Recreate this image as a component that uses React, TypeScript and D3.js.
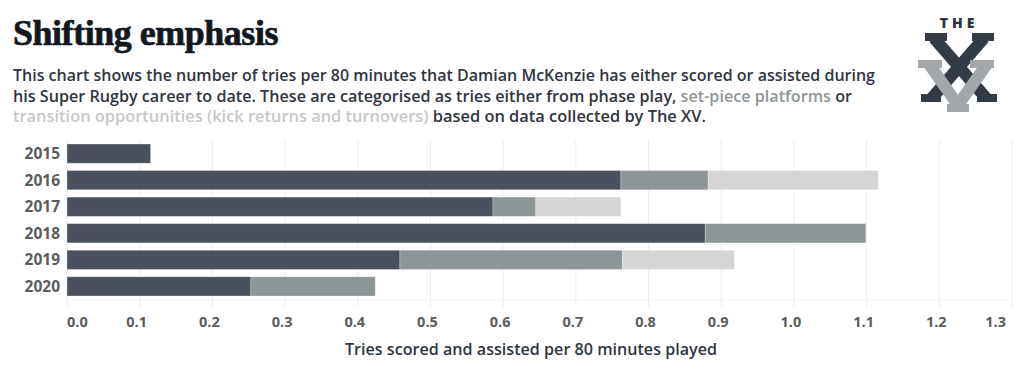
import React from "react";
import * as d3 from "d3";

// seasons and tries per 80 minutes, split by source
const years = ["2015", "2016", "2017", "2018", "2019", "2020"];
const phasePlay = [0.115, 0.762, 0.586, 0.878, 0.458, 0.253];
const setPiece = [0, 0.12, 0.059, 0.221, 0.306, 0.171];
const transition = [0, 0.234, 0.117, 0, 0.154, 0];
const tickValues = [0, 0.1, 0.2, 0.3, 0.4, 0.5, 0.6, 0.7, 0.8, 0.9, 1.0, 1.1, 1.2, 1.3];

const keys = ["phase", "setPiece", "transition"];
const colors = ["#4b515c", "#8e9596", "#d5d5d5"];

const width = 1024,
  height = 373;

const App: React.FC = () => {
  const rows = years.map((y, i) => ({
    year: y,
    phase: phasePlay[i],
    setPiece: setPiece[i],
    transition: transition[i],
  }));
  const stacked = d3.stack<any>().keys(keys)(rows);

  const x = d3.scaleLinear().domain([0, 1.3]).range([67, 1012]);
  const y = d3
    .scaleBand()
    .domain(years)
    .range([140, 300])
    .paddingInner(0.275)
    .paddingOuter(0.15);

  const sans = "'Open Sans', Roboto, sans-serif";
  const last = tickValues.length - 1;

  return (
    <svg
      width={width}
      height={height}
      style={{ position: "absolute", left: 0, top: 0, background: "#fff" }}
    >
      {/* header */}
      <text
        x={13}
        y={45}
        fontFamily="'Liberation Serif', serif"
        fontWeight={700}
        fontSize={35}
        letterSpacing={-0.4}
        fill="#111820"
        stroke="#111820"
        strokeWidth={0.7}
        textLength={265}
        lengthAdjust="spacingAndGlyphs"
      >
        Shifting emphasis
      </text>
      <g fontFamily={sans} fontWeight={600} fontSize={15.4} fill="#2f3540">
        <text x={13} y={81} textLength={862} lengthAdjust="spacingAndGlyphs">
          This chart shows the number of tries per 80 minutes that Damian McKenzie has either scored or assisted during
        </text>
        <text x={13} y={102} textLength={839} lengthAdjust="spacingAndGlyphs">
          his Super Rugby career to date. These are categorised as tries either from phase play,{" "}
          <tspan fill="#8e9596">set-piece platforms</tspan> or
        </text>
        <text x={13} y={122} textLength={693} lengthAdjust="spacingAndGlyphs">
          <tspan fill="#c8c8c8">transition opportunities (kick returns and turnovers)</tspan> based on data
          collected by The XV.
        </text>
      </g>

      {/* logo */}
      <g>
        <text
          x={959}
          y={28}
          textAnchor="middle"
          fontFamily={sans}
          fontWeight={800}
          fontSize={14}
          letterSpacing={4}
          fill="#2c333d"
        >
          THE
        </text>
        <g stroke="#333b46" strokeWidth={12}>
          <line x1={934} y1={38} x2={986} y2={98} />
          <line x1={984} y1={38} x2={932} y2={98} />
        </g>
        <g fill="#333b46">
          <rect x={925} y={33} width={22} height={8} />
          <rect x={972} y={33} width={22} height={8} />
          <rect x={921} y={94} width={20} height={8} />
          <rect x={977} y={94} width={20} height={8} />
        </g>
        <g stroke="#a3a7aa" strokeWidth={12}>
          <line x1={929} y1={64} x2={960} y2={108} />
          <line x1={987} y1={64} x2={956} y2={108} />
        </g>
        <g fill="#a3a7aa">
          <rect x={918} y={60} width={24} height={8} />
          <rect x={970} y={60} width={24} height={8} />
          <rect x={947} y={104} width={22} height={8} />
        </g>
      </g>

      {/* grid */}
      <g stroke="#eeeeee" strokeWidth={1}>
        {tickValues.map((t) => (
          <line key={t} x1={x(t)} x2={x(t)} y1={140} y2={307} />
        ))}
        <line x1={x(0)} x2={x(1.3)} y1={300} y2={300} stroke="#f4f4f4" />
      </g>

      {/* bars */}
      {stacked.map((s, k) => (
        <g key={s.key} fill={colors[k]}>
          {s.map((d: any) =>
            d[1] - d[0] > 0 ? (
              <rect
                key={d.data.year}
                x={x(d[0])}
                y={y(d.data.year)}
                width={x(d[1]) - x(d[0])}
                height={y.bandwidth()}
                stroke="#ffffff"
                strokeOpacity={0.35}
                strokeWidth={0.8}
              />
            ) : null
          )}
        </g>
      ))}

      {/* y labels */}
      <g fontFamily={sans} fontWeight={700} fontSize={15.5} fill="#5c5c5c" textAnchor="end">
        {years.map((yr) => (
          <text key={yr} x={60} y={(y(yr) as number) + y.bandwidth() / 2 + 5.5}>
            {yr}
          </text>
        ))}
      </g>

      {/* x ticks */}
      <g fontFamily={sans} fontWeight={700} fontSize={14.5} fill="#5c5c5c">
        {tickValues.map((t, i) => (
          <text
            key={t}
            x={i === 0 ? x(t) : i === last ? x(t) - 6 : x(t) - 3}
            y={327}
            textAnchor={i === 0 ? "start" : i === last ? "end" : "middle"}
          >
            {d3.format(".1f")(t)}
          </text>
        ))}
      </g>
      <text
        x={531}
        y={355}
        textAnchor="middle"
        fontFamily={sans}
        fontWeight={600}
        fontSize={15.4}
        fill="#2f3540"
        textLength={372}
        lengthAdjust="spacingAndGlyphs"
      >
        Tries scored and assisted per 80 minutes played
      </text>
    </svg>
  );
};

export default App;
